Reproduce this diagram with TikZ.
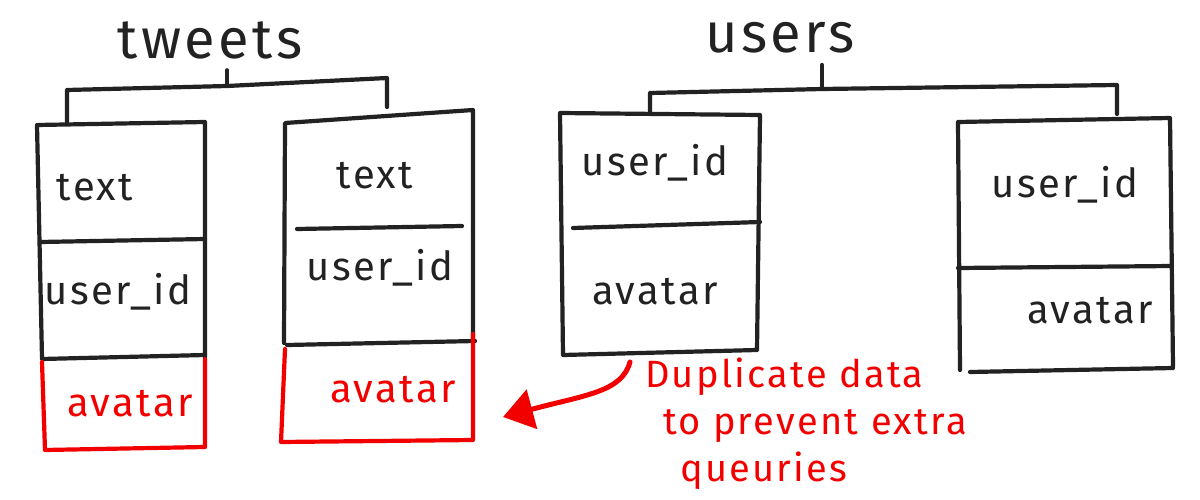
\documentclass[tikz,border=0pt]{standalone}
\usepackage{fontspec}
\setmainfont{Fira Sans}
\newfontfamily\handfont{Fira Sans}[LetterSpace=6]
\usetikzlibrary{arrows.meta}

\definecolor{pencil}{HTML}{222222}
\definecolor{marker}{HTML}{F20000}

\tikzset{
	sketch/.style={draw=pencil, line width=4.2pt, line cap=round, line join=round},
	redsketch/.style={sketch, draw=marker},
	field/.style={text=pencil, font=\handfont\fontsize{40}{48}\selectfont},
	redfield/.style={field, text=marker},
	tabletitle/.style={text=pencil, font=\handfont\fontsize{56}{60}\selectfont},
}

\begin{document}
\begin{tikzpicture}[x=1pt, y=-1pt]
	\useasboundingbox (0,0) rectangle (1200,500);
	
	% Table titles
	\node[tabletitle] (tweets) at (210,40) {tweets};
	\node[tabletitle] (users) at (780,38) {users};
	
	% Brackets under the titles
	\coordinate (twj) at (227,86);
	\coordinate (usj) at (822,89);
	\path (tweets.south -| twj) ++(0,8) coordinate (twtop);
	\path (users.south -| usj) ++(0,8) coordinate (ustop);
	\draw[sketch] (twtop) -- (twj);
	\draw[sketch] (67,122) -- (67,90) -- (twj) -- (387,78) -- (387,107);
	\draw[sketch] (ustop) -- (usj);
	\draw[sketch] (650,112) -- (650,93) -- (usj) -- (1117,85) -- (1117,114);
	
	% Tweet rows (black part, then the copied avatar in red)
	\draw[sketch] (42,358) -- (37,125) -- (205,122) -- (205,357);
	\draw[sketch] (40,242) -- (205,239);
	\draw[sketch] (42,359) -- (205,355);
	\draw[redsketch] (42,362) -- (45,450) -- (205,447) -- (205,359);
	
	\draw[sketch] (284,343) -- (285,123) -- (473,110) -- (473,341);
	\draw[sketch] (297,229) -- (462,226);
	\draw[sketch] (287,345) -- (475,341);
	\draw[redsketch] (285,349) -- (281,442) -- (473,440) -- (473,334);
	
	% User rows
	\draw[sketch] (563,355) -- (560,113) -- (760,115) -- (757,350) -- cycle;
	\draw[sketch] (573,228) -- (760,222);
	\draw[sketch] (960,370) -- (958,122) -- (1170,118) -- (1173,366);
	\draw[sketch] (958,268) -- (1172,266);
	\draw[sketch] (970,372) -- (1173,368);
	
	% Field labels
	\foreach \name/\pos/\txt in {t1text/{95,188}/text, t1uid/{118,292}/user\_id,
		t2text/{375,176}/text, t2uid/{380,268}/user\_id,
		u1uid/{655,163}/user\_id, u1av/{655,292}/avatar,
		u2uid/{1065,185}/user\_id, u2av/{1090,311}/avatar}
	\node[field] (\name) at (\pos) {\txt};
	\node[redfield] (t1av) at (130,404) {avatar};
	\node[redfield] (t2av) at (393,390) {avatar};
	
	% Note and arrow
	\node[text=marker, font=\handfont\fontsize{38}{47}\selectfont, align=left,
		anchor=north west, inner sep=0pt] (note) at (645,358)
		{Duplicate data\\\hspace*{18pt}to prevent extra\\\hspace*{35pt}queuries};
	\coordinate (dupstart) at (630,362);
	\coordinate (duptip) at (503,417);
	\draw[redsketch, line width=5pt, -{Triangle[length=30pt, width=40pt]}]
		(dupstart) .. controls (622,392) and (585,395) .. (duptip);
		
\end{tikzpicture}
\end{document}
